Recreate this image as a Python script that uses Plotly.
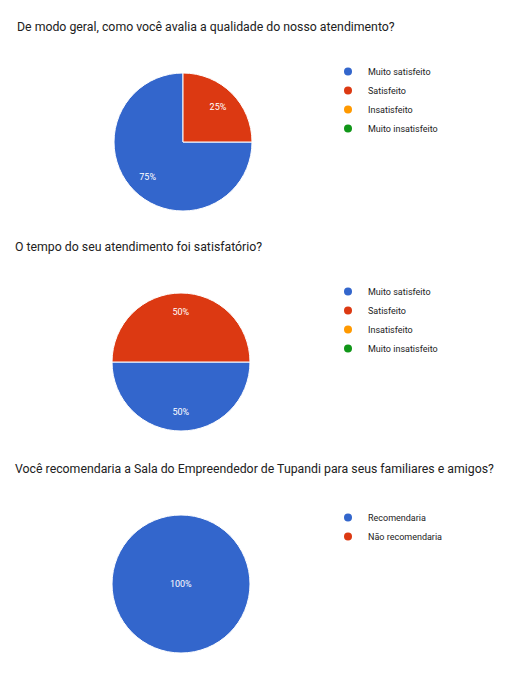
import plotly.graph_objects as go

# cores padrão dos gráficos do Google Forms
cores_satisfacao = ["#3366CC", "#DC3912", "#FF9900", "#109618"]
cores_recomendacao = ["#3366CC", "#DC3912"]

pergunta1 = "De modo geral, como você avalia a qualidade do nosso atendimento?"
pergunta2 = "O tempo do seu atendimento foi satisfatório?"
pergunta3 = "Você recomendaria a Sala do Empreendedor de Tupandi para seus familiares e amigos?"

opcoes_satisfacao = ["Muito satisfeito", "Satisfeito", "Insatisfeito", "Muito insatisfeito"]
qualidade = [75, 25, 0, 0]
tempo = [50, 50, 0, 0]

opcoes_recomendacao = ["Recomendaria", "Não recomendaria"]
recomendacao = [100, 0]

# a página tem margem de 8px no body; a figura ocupa o resto da janela
M = 8
W, H = 531 - 2 * M, 674 - 2 * M


def px_x(x):
    return (x - M) / W


def px_y(y):
    return 1 - (y - M) / H


# (pergunta, rótulos, valores, cores, legenda, domínio x, domínio y, posição do título, topo da legenda)
graficos = [
    (pergunta1, opcoes_satisfacao, qualidade, cores_satisfacao, "legend",
     [114, 252], [73, 211], (15, 27), 57),
    (pergunta2, opcoes_satisfacao, tempo, cores_satisfacao, "legend2",
     [112, 250], [293, 431], (13, 247), 277),
    (pergunta3, opcoes_recomendacao, recomendacao, cores_recomendacao, "legend3",
     [112, 250], [515, 653], (13, 469), 503),
]

fig = go.Figure()
anotacoes = []
legendas = {}

for titulo, rotulos, valores, cores, leg, dx, dy, pos_t, topo_leg in graficos:
    total = sum(valores)
    dominio = dict(x=[px_x(dx[0]), px_x(dx[1])], y=[px_y(dy[1]), px_y(dy[0])])
    fatias = sum(1 for v in valores if v)

    # fatias
    fig.add_trace(go.Pie(
        labels=rotulos,
        values=valores,
        textinfo="none",
        marker=dict(colors=cores, line=dict(color="white",
                                            width=[1 if v else 0 for v in valores])),
        sort=False,
        direction="clockwise",
        rotation=90,
        showlegend=False,
        hoverinfo="label+percent",
        domain=dominio,
    ))

    # rótulos de porcentagem (anel transparente para levá-los mais para a borda)
    fig.add_trace(go.Pie(
        labels=rotulos,
        values=valores,
        text=[f"{v / total:.0%}" if v else "" for v in valores],
        textinfo="text",
        textposition="inside",
        insidetextorientation="horizontal",
        textfont=dict(color="white", size=9, family="Roboto"),
        marker=dict(colors=["rgba(0,0,0,0)"] * len(valores), line=dict(width=0)),
        hole=0.44 if fatias > 1 else 0,
        sort=False,
        direction="clockwise",
        rotation=90,
        showlegend=False,
        hoverinfo="skip",
        domain=dominio,
    ))

    # itens da legenda com marcador redondo, como no Google Forms
    for rotulo, cor in zip(rotulos, cores):
        fig.add_trace(go.Scatter(
            x=[None], y=[None], mode="markers", name=rotulo,
            marker=dict(color=cor, size=8, symbol="circle"),
            legend=leg, hoverinfo="skip",
        ))
    legendas[leg] = dict(
        x=px_x(328), xanchor="left", y=px_y(topo_leg), yanchor="top",
        font=dict(family="Roboto", size=9, color="#222222"),
        bgcolor="rgba(0,0,0,0)", tracegroupgap=0,
    )
    anotacoes.append(dict(
        text=titulo, x=px_x(pos_t[0]), y=px_y(pos_t[1]), xref="paper", yref="paper",
        xanchor="left", yanchor="middle", showarrow=False,
        font=dict(family="Roboto", size=12.3, color="#212121"),
    ))

fig.update_layout(
    width=W, height=H,
    margin=dict(l=0, r=0, t=0, b=0),
    paper_bgcolor="white", plot_bgcolor="white",
    xaxis=dict(visible=False), yaxis=dict(visible=False),
    annotations=anotacoes,
    **legendas,
)

fig.write_html("out.html")
